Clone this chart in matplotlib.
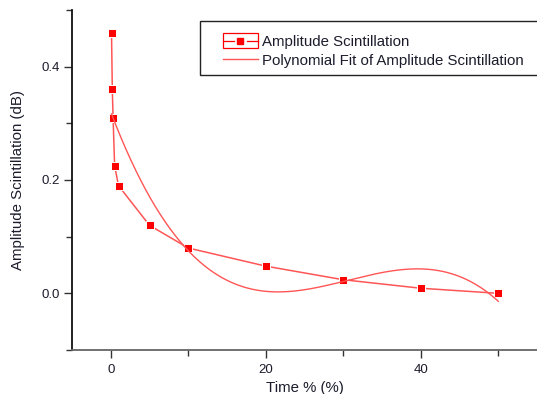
import numpy as np
import matplotlib.pyplot as plt
from matplotlib.legend_handler import HandlerBase
from matplotlib.lines import Line2D
from matplotlib.patches import Rectangle

plt.rcParams['font.family'] = ['Liberation Sans', 'DejaVu Sans']

# data
time_pct = [0.1, 0.2, 0.3, 0.5, 1, 5, 10, 20, 30, 40, 50]
amp_scint = [0.46, 0.36, 0.31, 0.225, 0.19, 0.12, 0.08, 0.048, 0.024, 0.009, 0.0]
fit_degree = 3

x_ticks = [0, 20, 40]
y_ticks = [0.0, 0.2, 0.4]

RED = '#ff0000'
LINE_RED = '#ff5555'
TXT = '#1c1c2c'


class OriginHandler(HandlerBase):
    # Origin style legend symbol
    def __init__(self, boxed):
        super().__init__()
        self.boxed = boxed

    def create_artists(self, legend, orig_handle, xdescent, ydescent,
                       width, height, fontsize, trans):
        x0 = -xdescent
        w = width
        ym = height / 2 - ydescent
        arts = []
        if self.boxed:
            arts.append(Rectangle((x0, ym - 5.3), w, 10.6, fill=False,
                                  edgecolor=RED, lw=0.9, transform=trans))
            arts.append(Line2D([x0, x0 + w / 2 - 4.5], [ym, ym], color=RED,
                               lw=0.9, transform=trans))
            arts.append(Line2D([x0 + w / 2 + 4.5, x0 + w], [ym, ym], color=RED,
                               lw=0.9, transform=trans))
            arts.append(Line2D([x0 + w / 2], [ym], marker='s', ms=4.3,
                               color=RED, ls='none', transform=trans))
        else:
            arts.append(Line2D([x0, x0 + w], [ym, ym], color=LINE_RED, lw=1.0,
                               transform=trans))
        return arts


fig = plt.figure(figsize=(5.37, 3.94), dpi=100)
ax = fig.add_axes([72 / 537, 44 / 394, 465 / 537, 340 / 394])

data_line, = ax.plot(time_pct, amp_scint, color=LINE_RED, lw=1.1, marker='s',
                     ms=5.8, mfc=RED, mec='white', mew=0.7,
                     label='Amplitude Scintillation')

coef = np.polyfit(time_pct, amp_scint, fit_degree)
xf = np.linspace(min(time_pct), max(time_pct), 400)
fit_line, = ax.plot(xf, np.polyval(coef, xf), color=LINE_RED, lw=1.0,
                    label='Polynomial Fit of Amplitude Scintillation')

ax.set_xlim(-5, 55)
ax.set_ylim(-0.1, 0.5)
ax.set_xticks(x_ticks)
ax.set_xticks([10, 30, 50], minor=True)
ax.set_yticks(y_ticks)
ax.set_yticks([-0.1, 0.1, 0.3, 0.5], minor=True)
ax.set_yticklabels(['%.1f' % v for v in y_ticks])

for s in ['top', 'right']:
    ax.spines[s].set_visible(False)
ax.spines['left'].set_color('#111111')
ax.spines['bottom'].set_color('#666666')
for s in ['left', 'bottom']:
    ax.spines[s].set_linewidth(1.3)

ax.tick_params(which='major', direction='out', length=6, width=1,
               labelsize=9.5, colors='#333333')
ax.tick_params(axis='y', which='major', pad=3)
ax.tick_params(axis='x', which='major', pad=4)
ax.tick_params(which='minor', direction='out', length=4, width=1,
               colors='#333333')
for lbl in ax.get_xticklabels() + ax.get_yticklabels():
    lbl.set_color(TXT)

ax.set_xlabel('Time % (%)', fontsize=10.8, color=TXT)
ax.set_ylabel('Amplitude Scintillation (dB)', fontsize=10.8, color=TXT)
ax.xaxis.set_label_coords(0.5, (350 - 388) / 340)
ax.xaxis.label.set_va('center')
ax.yaxis.set_label_coords((18 - 72) / 465, 0.5)
ax.yaxis.label.set_va('center')

# legend frame runs off the right edge, as in the reference
frame = Rectangle((200 / 537, 1 - 75 / 394), 400 / 537, 54 / 394,
                  transform=fig.transFigure, fill=True, facecolor='white',
                  edgecolor='#222222', lw=1.0, zorder=5)
ax.add_patch(frame)
frame.set_clip_on(False)

leg = ax.legend(handles=[data_line, fit_line], loc='upper left',
                bbox_to_anchor=(223 / 537, 1 - 35 / 394),
                bbox_transform=fig.transFigure, fontsize=10.8,
                frameon=False, borderaxespad=0, borderpad=0,
                handlelength=2.33, handletextpad=0.27, labelspacing=0.3,
                handler_map={data_line: OriginHandler(True),
                             fit_line: OriginHandler(False)})
leg.set_zorder(6)
for t in leg.get_texts():
    t.set_color(TXT)

fig.savefig('out.png', dpi=100)
